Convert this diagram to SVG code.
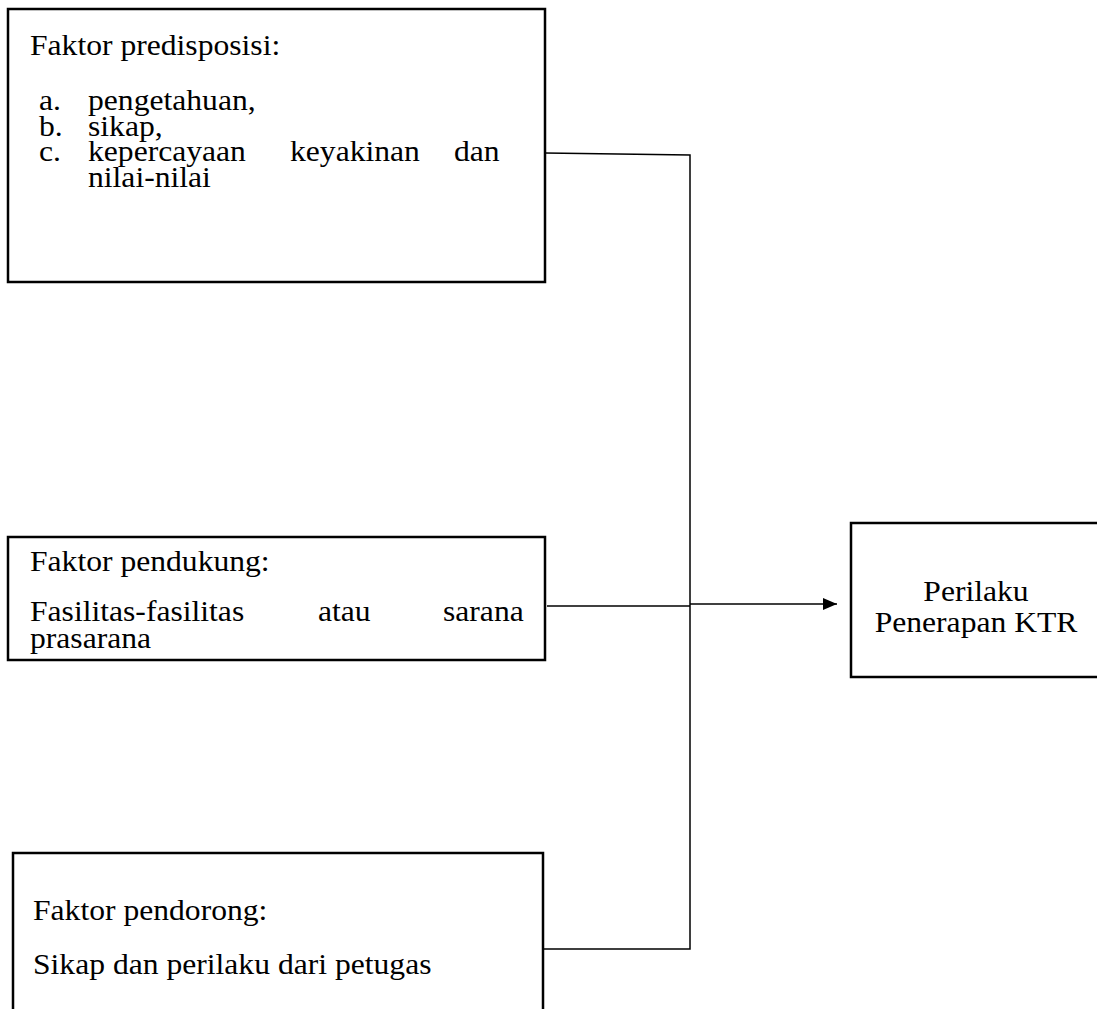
<svg xmlns="http://www.w3.org/2000/svg" width="1097" height="1009" viewBox="0 0 1097 1009">
<defs>
<style>
.box{fill:#fff;stroke:#000;stroke-width:2.5}
.t{font-family:"Liberation Serif","Times New Roman",serif;font-size:29px;fill:#000}
.ln{stroke:#000;stroke-width:1.5;fill:none}
</style>
<marker id="arr" viewBox="0 0 14 12" refX="14" refY="6" markerWidth="14" markerHeight="12" markerUnits="userSpaceOnUse" orient="auto">
<path d="M0,0 L14,6 L0,12 z" fill="#000"/>
</marker>
</defs>
<rect width="1097" height="1009" fill="#fff"/>
<g id="connectors">
<polyline class="ln" points="545,153 690,155 690,949 543,949"/>
<line class="ln" x1="547" y1="606" x2="690" y2="606"/>
<line class="ln" x1="690" y1="604" x2="837" y2="604" marker-end="url(#arr)"/>
</g>
<g id="predisposisi">
<rect class="box" x="8" y="9" width="537" height="273"/>
<text class="t" transform="translate(30,55) scale(1.09,1)">Faktor predisposisi:</text>
<text class="t" transform="translate(39,110) scale(1.09,1)">a.</text>
<text class="t" transform="translate(88,110) scale(1.09,1)">pengetahuan,</text>
<text class="t" transform="translate(39,136) scale(1.09,1)">b.</text>
<text class="t" transform="translate(88,136) scale(1.09,1)">sikap,</text>
<text class="t" transform="translate(39,161) scale(1.09,1)">c.</text>
<text class="t" transform="translate(88,161) scale(1.09,1)">kepercayaan</text>
<text class="t" transform="translate(290,161) scale(1.09,1)">keyakinan</text>
<text class="t" transform="translate(454,161) scale(1.09,1)">dan</text>
<text class="t" transform="translate(88,187) scale(1.09,1)">nilai-nilai</text>
</g>
<g id="pendukung">
<rect class="box" x="8" y="537" width="537" height="123"/>
<text class="t" transform="translate(30,571) scale(1.09,1)">Faktor pendukung:</text>
<text class="t" transform="translate(30,621) scale(1.09,1)">Fasilitas-fasilitas</text>
<text class="t" transform="translate(318,621) scale(1.09,1)">atau</text>
<text class="t" transform="translate(443,621) scale(1.09,1)">sarana</text>
<text class="t" transform="translate(30,648) scale(1.09,1)">prasarana</text>
</g>
<g id="perilaku">
<rect class="box" x="851" y="523" width="260" height="154"/>
<text class="t" text-anchor="middle" transform="translate(976,601) scale(1.09,1)">Perilaku</text>
<text class="t" text-anchor="middle" transform="translate(976,632) scale(1.09,1)">Penerapan KTR</text>
</g>
<g id="pendorong">
<rect class="box" x="13" y="853" width="530" height="200"/>
<text class="t" transform="translate(33,920) scale(1.09,1)">Faktor pendorong:</text>
<text class="t" transform="translate(33,974) scale(1.09,1)">Sikap dan perilaku dari petugas</text>
</g>
</svg>
